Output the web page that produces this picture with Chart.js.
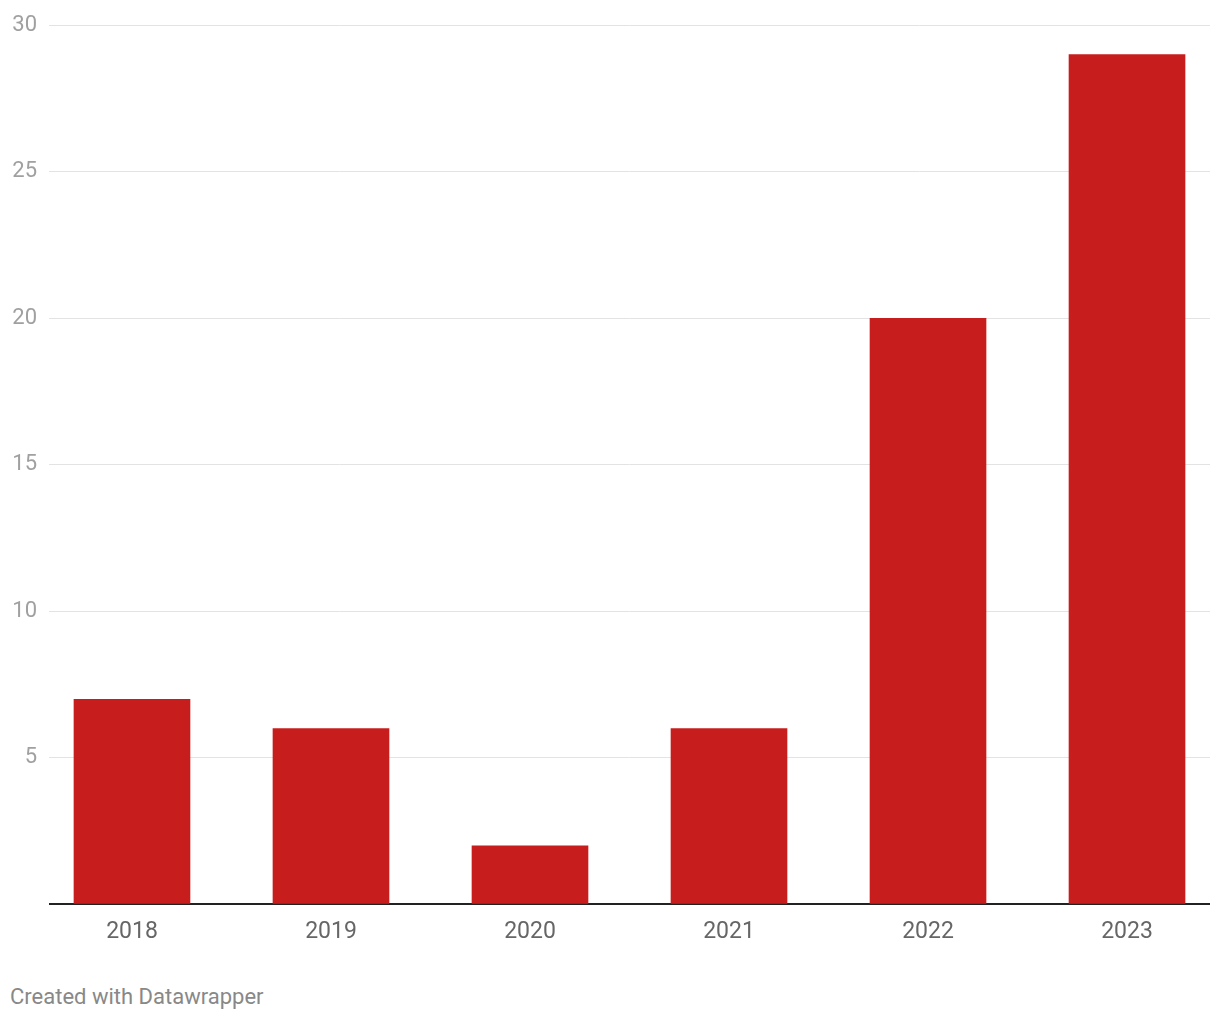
<!DOCTYPE html>
<html>
<head>
<meta charset="utf-8">
<script src="https://cdn.jsdelivr.net/npm/chart.js@4/dist/chart.umd.min.js"></script>
<style>
  html, body { margin: 0; padding: 0; background: #fff; width: 1220px; height: 1020px; overflow: hidden; }
  #wrap { position: absolute; left: 0; top: 0; width: 1220px; height: 952px; }
  #footer { position: absolute; left: 10px; top: 984px; font-family: Roboto, "Noto Sans", sans-serif; font-size: 22px; color: #888; }
</style>
</head>
<body>
<div id="wrap"><canvas id="c"></canvas></div>
<div id="footer">Created with Datawrapper</div>
<script>
const categories = ["2018", "2019", "2020", "2021", "2022", "2023"];
const values = [7, 6, 2, 6, 20, 29];
const yTicks = [0, 5, 10, 15, 20, 25, 30];

const xNums = categories.map(Number);
const points = xNums.map((x, i) => ({ x: x, y: values[i] }));

new Chart(document.getElementById('c'), {
  type: 'bar',
  data: {
    datasets: [{
      data: points,
      backgroundColor: '#c71e1d',
      borderWidth: 0,
      barThickness: 116
    }]
  },
  options: {
    responsive: true,
    maintainAspectRatio: false,
    animation: false,
    layout: { padding: { top: 10, right: 10, left: 0, bottom: 0 } },
    plugins: { legend: { display: false }, tooltip: { enabled: false } },
    scales: {
      x: {
        type: 'linear',
        offset: false,
        min: xNums[0] - 0.417,
        max: xNums[xNums.length - 1] + 0.417,
        afterBuildTicks: (scale) => { scale.ticks = xNums.map(v => ({ value: v })); },
        grid: { display: false },
        border: { display: false },
        ticks: {
          callback: (v) => String(v),
          color: '#666',
          font: { family: 'Roboto', size: 23 },
          padding: 6,
          maxRotation: 0,
          autoSkip: false
        }
      },
      y: {
        min: 0,
        max: 30,
        afterBuildTicks: (scale) => { scale.ticks = yTicks.map(v => ({ value: v })); },
        afterFit: (scale) => { scale.width = 49; },
        grid: {
          color: (ctx) => ctx.tick && ctx.tick.value === 0 ? '#222' : '#e3e3e3',
          lineWidth: (ctx) => ctx.tick && ctx.tick.value === 0 ? 2 : 1,
          drawTicks: false
        },
        border: { display: false },
        ticks: {
          callback: (v) => v === 0 ? '' : String(v),
          color: '#a0a0a0',
          font: { family: 'Roboto', size: 22 },
          padding: 12
        }
      }
    }
  }
});
</script>
</body>
</html>
